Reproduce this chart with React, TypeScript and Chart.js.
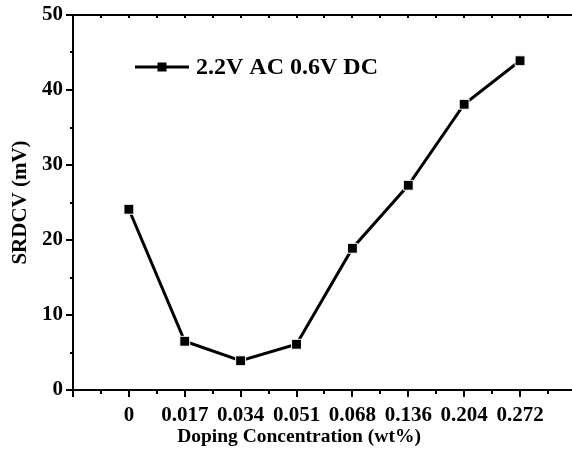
import React, { useEffect, useRef } from "react";
import { Chart, registerables } from "chart.js";

Chart.register(...registerables);

const categories = ["0", "0.017", "0.034", "0.051", "0.068", "0.136", "0.204", "0.272"];
const srdcv = [24.1, 6.5, 3.9, 6.1, 18.9, 27.3, 38.1, 43.9];
const yTicks = [0, 10, 20, 30, 40, 50];
const seriesLabel = "2.2V AC 0.6V DC";
const xTitle = "Doping Concentration (wt%)";
const yTitle = "SRDCV (mV)";

const FONT = "'Liberation Serif', 'Times New Roman', serif";

const axesPlugin = {
  id: "originAxes",
  afterDraw(chart: any) {
    const { ctx, chartArea, scales } = chart;
    const { left, right, top, bottom } = chartArea;
    const x = scales.x;
    const y = scales.y;
    ctx.save();
    ctx.strokeStyle = "#000";
    ctx.lineWidth = 2;
    ctx.beginPath();
    ctx.moveTo(left, top);
    ctx.lineTo(right, top);
    ctx.moveTo(left, top - 1);
    ctx.lineTo(left, bottom);
    ctx.lineTo(right, bottom);
    ctx.stroke();

    ctx.beginPath();
    for (let v = x.min; v <= x.max + 1e-9; v += 0.5) {
      const px = Math.round(x.getPixelForValue(v));
      const major = Math.abs(v - Math.round(v)) < 1e-6;
      ctx.moveTo(px, bottom);
      ctx.lineTo(px, bottom + (major ? 7 : 4));
      ctx.moveTo(px, top);
      ctx.lineTo(px, top + 3);
    }
    for (let v = 0; v <= 50; v += 5) {
      const py = Math.round(y.getPixelForValue(v));
      const major = v % 10 === 0;
      ctx.moveTo(left, py);
      ctx.lineTo(left - (major ? 7 : 3), py);
    }
    ctx.stroke();

    const ly = 67;
    const lx0 = 135;
    const lx1 = 189;
    ctx.lineWidth = 3;
    ctx.beginPath();
    ctx.moveTo(lx0, ly);
    ctx.lineTo(lx1, ly);
    ctx.stroke();
    ctx.fillStyle = "#000";
    ctx.fillRect((lx0 + lx1) / 2 - 4.5, ly - 4.5, 9, 9);
    ctx.font = `bold 24px ${FONT}`;
    ctx.textAlign = "left";
    ctx.textBaseline = "middle";
    ctx.fillText(seriesLabel, 196, ly + 1);

    ctx.font = `bold 19.5px ${FONT}`;
    ctx.textAlign = "center";
    ctx.textBaseline = "alphabetic";
    ctx.fillText(xTitle, 299, 442);
    ctx.restore();
  },
};

export default function App() {
  const ref = useRef<HTMLCanvasElement | null>(null);

  useEffect(() => {
    document.body.style.margin = "0";
    const canvas = ref.current;
    if (!canvas) return;
    const chart = new Chart(canvas, {
      type: "line",
      data: {
        datasets: [
          {
            label: seriesLabel,
            data: srdcv.map((v, i) => ({ x: i, y: v })),
            borderColor: "#000",
            backgroundColor: "#000",
            borderWidth: 3,
            pointStyle: "rect",
            pointRadius: 7,
            pointBorderColor: "#fff",
            pointBorderWidth: 1,
            pointBackgroundColor: "#000",
            tension: 0,
          },
        ],
      },
      plugins: [axesPlugin],
      options: {
        responsive: false,
        animation: false,
        layout: { autoPadding: false, padding: { top: 15, right: 0, left: 0, bottom: 0 } },
        plugins: {
          legend: { display: false },
          tooltip: { enabled: false },
        },
        scales: {
          x: {
            type: "linear",
            min: -1,
            max: 7.93,
            grid: { display: false, drawTicks: false, tickLength: 0 },
            border: { display: false },
            afterBuildTicks: (scale: any) => {
              scale.ticks = categories.map((_, i) => ({ value: i }));
            },
            afterFit: (scale: any) => {
              scale.height = 67;
              scale.paddingLeft = 0;
              scale.paddingRight = 0;
            },
            ticks: {
              autoSkip: false,
              maxRotation: 0,
              padding: 13,
              color: "#000",
              font: { family: FONT, size: 21, weight: "bold" },
              callback: (v: any) => {
                const i = Math.round(Number(v));
                return categories[i] ?? "";
              },
            },
            title: { display: false, text: xTitle },
          },
          y: {
            min: 0,
            max: 50,
            grid: { display: false, drawTicks: false, tickLength: 0 },
            border: { display: false },
            afterBuildTicks: (scale: any) => {
              scale.ticks = yTicks.map((v) => ({ value: v }));
            },
            afterFit: (scale: any) => {
              scale.width = 73;
              scale.paddingTop = 0;
              scale.paddingBottom = 0;
            },
            ticks: {
              padding: 10,
              color: "#000",
              font: { family: FONT, size: 21, weight: "bold" },
            },
            title: {
              display: true,
              text: yTitle,
              color: "#000",
              font: { family: FONT, size: 21, weight: "bold" },
              padding: { top: 8, bottom: 0 },
            },
          },
        },
      },
    });
    return () => chart.destroy();
  }, []);

  return (
    <div style={{ position: "fixed", left: 0, top: 0, width: 572, height: 457, background: "#fff" }}>
      <canvas ref={ref} width={572} height={457} />
    </div>
  );
}
